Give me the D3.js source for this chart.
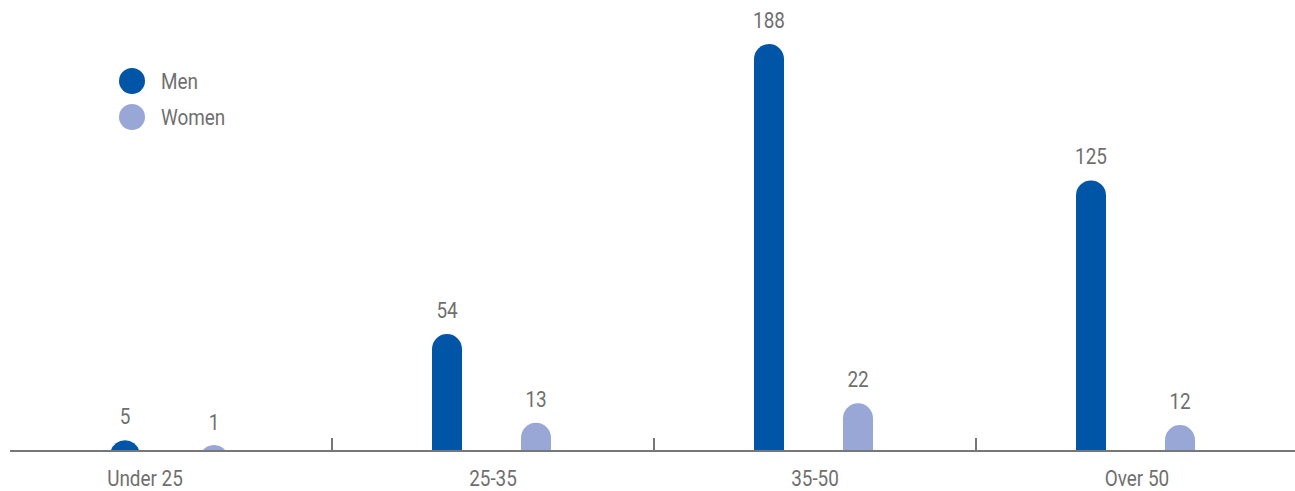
<!DOCTYPE html>
<html>
<head>
<meta charset="utf-8">
<script src="https://cdn.jsdelivr.net/npm/d3@7"></script>
<style>
  body { margin: 0; background: #fff; }
  text { font-family: Roboto, "Noto Sans", sans-serif; fill: #6f6f6f; font-size: 22px; }
</style>
</head>
<body>
<div id="chart"></div>
<script>
var categories = ["Under 25", "25-35", "35-50", "Over 50"];
var series = ["Men", "Women"];
var men = [5, 54, 188, 125];
var women = [1, 13, 22, 12];

var colors = { Men: "#0055a6", Women: "#98a7d5" };

var width = 1295, height = 491,
    baseY = 451, topY = 44,
    r = 15, squeeze = 0.86;

var data = categories.map(function (c, i) {
    return { cat: c, values: [{ s: "Men", v: men[i] }, { s: "Women", v: women[i] }] };
});

var svg = d3.select("#chart").append("svg")
    .attr("width", width)
    .attr("height", height);

var x = d3.scaleBand()
    .domain(categories)
    .range([10, 1298]);

var x1 = d3.scalePoint()
    .domain(series)
    .range([-46, 43]);

var y = d3.scaleLinear()
    .domain([0, d3.max(men.concat(women))])
    .range([baseY, topY]);

// narrow text, the original uses a condensed face
function label(sel, px, py, anchor, txt) {
    sel.append("g")
        .attr("transform", "translate(" + px + "," + py + ") scale(" + squeeze + ",1)")
        .append("text")
        .attr("text-anchor", anchor)
        .text(txt);
}

// bar with a rounded top; short bars become a circle segment
function barPath(cx, v) {
    var h = Math.max(baseY - y(v), 6);
    if (h >= r) {
        return "M" + (cx - r) + "," + baseY +
            "V" + (baseY - h + r) +
            "A" + r + "," + r + " 0 0 1 " + (cx + r) + "," + (baseY - h + r) +
            "V" + baseY + "Z";
    }
    var hw = Math.sqrt(r * r - (r - h) * (r - h));
    return "M" + (cx - hw) + "," + baseY +
        "A" + r + "," + r + " 0 0 1 " + (cx + hw) + "," + baseY + "Z";
}

var groups = svg.selectAll(".cat")
    .data(data)
    .enter().append("g")
    .attr("class", "cat")
    .attr("transform", function (d) { return "translate(" + (x(d.cat) + x.bandwidth() / 2) + ",0)"; });

groups.selectAll("path")
    .data(function (d) { return d.values; })
    .enter().append("path")
    .attr("d", function (d) { return barPath(x1(d.s), d.v); })
    .attr("fill", function (d) { return colors[d.s]; });

groups.each(function (d) {
    var g = d3.select(this);
    d.values.forEach(function (p) {
        var ly = Math.min(y(p.v) - 16, baseY - 21);
        label(g, x1(p.s), ly, "middle", p.v);
    });
});

// axis line and separators
svg.append("line")
    .attr("x1", 10).attr("x2", 1295)
    .attr("y1", baseY).attr("y2", baseY)
    .attr("stroke", "#777")
    .attr("stroke-width", 2);

svg.selectAll(".sep")
    .data(categories.slice(1))
    .enter().append("line")
    .attr("class", "sep")
    .attr("x1", function (d) { return x(d); })
    .attr("x2", function (d) { return x(d); })
    .attr("y1", baseY - 13).attr("y2", baseY)
    .attr("stroke", "#777")
    .attr("stroke-width", 2);

categories.forEach(function (c, i) {
    label(svg, x(c) + x.bandwidth() / 2 + (i === 0 ? -26 : 0), 486, "middle", c);
});

// legend
var legend = svg.selectAll(".legend")
    .data(series)
    .enter().append("g")
    .attr("class", "legend")
    .attr("transform", function (d, i) { return "translate(132," + (81 + i * 36) + ")"; });

legend.append("circle")
    .attr("r", 13)
    .attr("fill", function (d) { return colors[d]; });

legend.each(function (d) {
    label(d3.select(this), 29, 8, "start", d);
});
</script>
</body>
</html>
